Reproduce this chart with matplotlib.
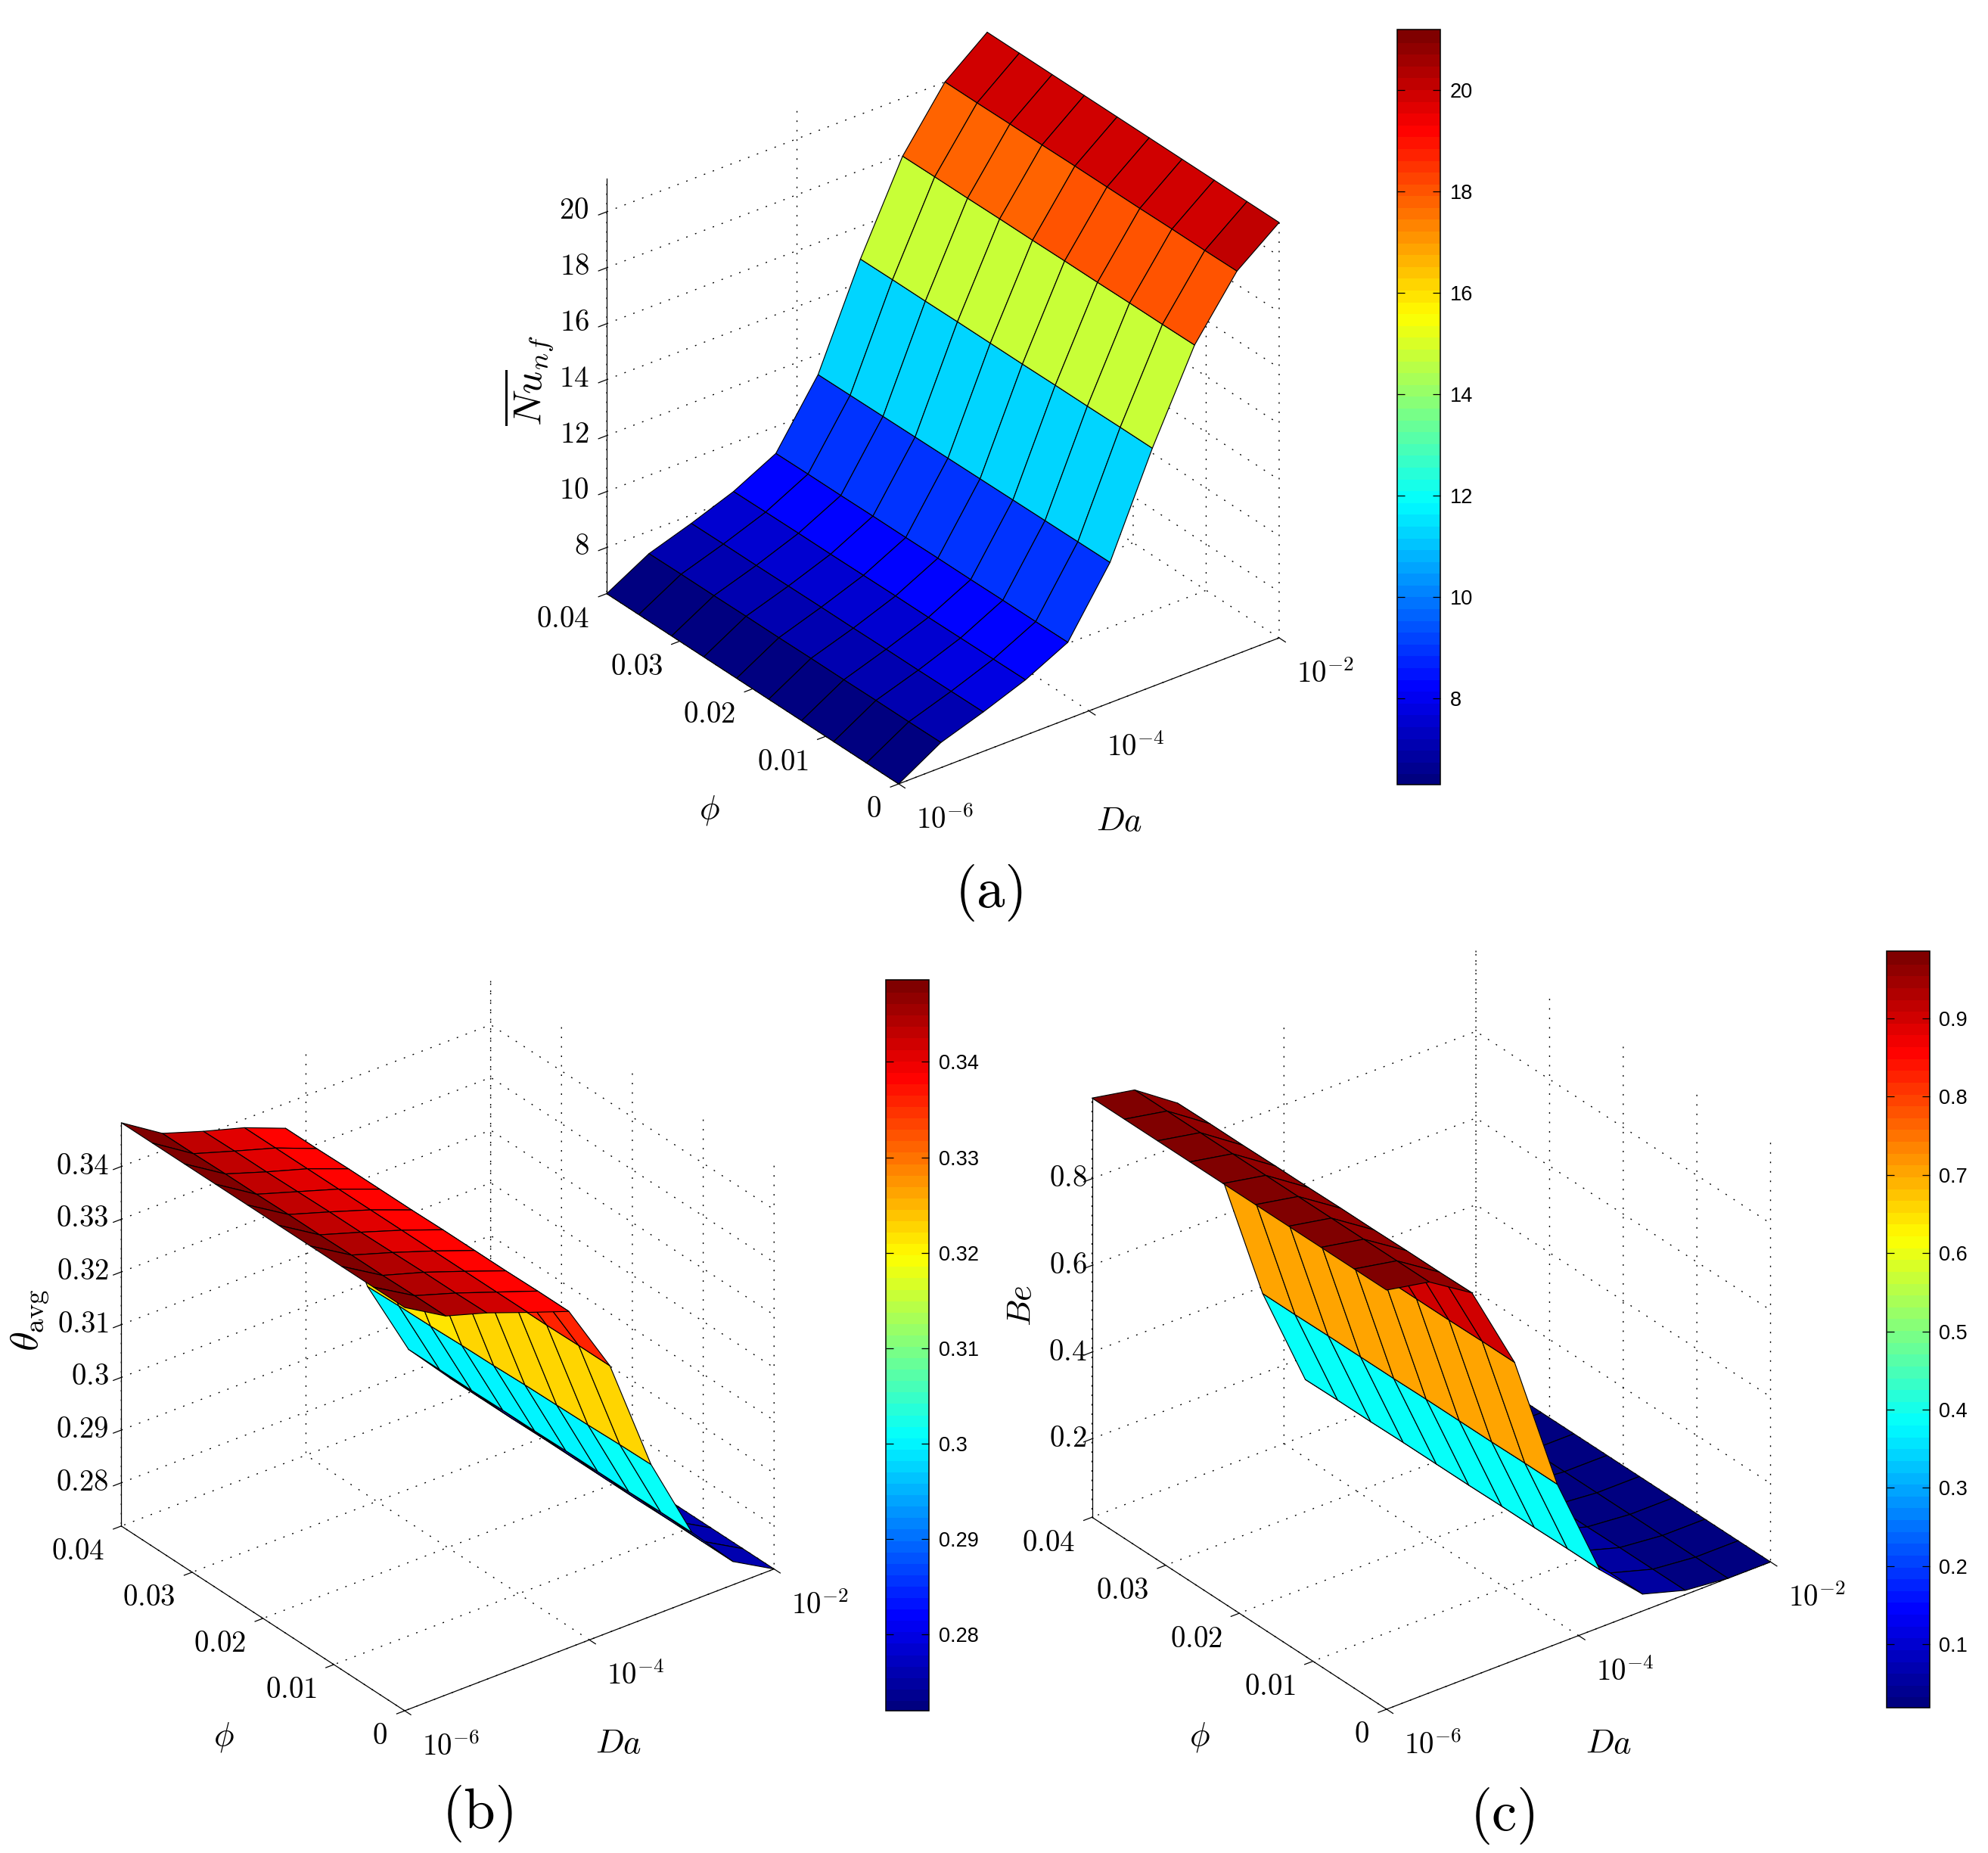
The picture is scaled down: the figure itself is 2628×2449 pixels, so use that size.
import numpy as np
import matplotlib
matplotlib.use('Agg')
import matplotlib.pyplot as plt
from matplotlib.colors import Normalize, LinearSegmentedColormap
from matplotlib.cm import ScalarMappable
from mpl_toolkits.mplot3d import proj3d

plt.rcParams['mathtext.fontset'] = 'cm'
plt.rcParams['grid.color'] = 'k'
plt.rcParams['grid.linewidth'] = 1.0
plt.rcParams['grid.linestyle'] = (0, (1.4, 7.6))

W, H = 2628, 2449

# log10(Da) and phi grid
log_da = [-6, -5.556, -5.111, -4.667, -4.222, -3.778, -3.333, -2.889, -2.444, -2]
phi = [0, 0.0044, 0.0089, 0.0133, 0.0178, 0.0222, 0.0267, 0.0311, 0.0356, 0.04]

# rows are phi, columns are Da
nu_avg = [
    [6.35, 7.25, 7.76, 8.33, 9.09, 11.37, 14.87, 17.98, 20.04, 21.20],
    [6.35, 7.24, 7.75, 8.32, 9.08, 11.36, 14.87, 17.97, 20.03, 21.20],
    [6.35, 7.24, 7.74, 8.31, 9.08, 11.35, 14.86, 17.97, 20.03, 21.20],
    [6.35, 7.23, 7.74, 8.30, 9.07, 11.34, 14.86, 17.96, 20.02, 21.20],
    [6.35, 7.23, 7.73, 8.30, 9.07, 11.33, 14.85, 17.96, 20.02, 21.20],
    [6.35, 7.22, 7.73, 8.29, 9.06, 11.32, 14.85, 17.95, 20.02, 21.20],
    [6.35, 7.22, 7.72, 8.28, 9.06, 11.31, 14.85, 17.95, 20.01, 21.20],
    [6.35, 7.21, 7.71, 8.28, 9.05, 11.30, 14.84, 17.94, 20.01, 21.20],
    [6.35, 7.21, 7.71, 8.27, 9.05, 11.29, 14.84, 17.94, 20.00, 21.20],
    [6.35, 7.20, 7.70, 8.26, 9.04, 11.28, 14.83, 17.93, 20.00, 21.20],
]
theta_avg = [
    [0.3483, 0.3437, 0.3413, 0.3384, 0.3356, 0.3223, 0.3006, 0.2847, 0.2762, 0.2718],
    [0.3483, 0.3437, 0.3412, 0.3384, 0.3356, 0.3223, 0.3005, 0.2847, 0.2762, 0.2718],
    [0.3483, 0.3436, 0.3412, 0.3384, 0.3355, 0.3222, 0.3003, 0.2846, 0.2762, 0.2718],
    [0.3483, 0.3436, 0.3411, 0.3384, 0.3355, 0.3222, 0.3002, 0.2846, 0.2761, 0.2718],
    [0.3483, 0.3435, 0.3410, 0.3384, 0.3355, 0.3221, 0.3001, 0.2846, 0.2761, 0.2718],
    [0.3483, 0.3435, 0.3410, 0.3384, 0.3354, 0.3221, 0.2999, 0.2845, 0.2761, 0.2718],
    [0.3483, 0.3434, 0.3409, 0.3384, 0.3354, 0.3220, 0.2998, 0.2845, 0.2761, 0.2718],
    [0.3483, 0.3434, 0.3408, 0.3384, 0.3354, 0.3220, 0.2996, 0.2844, 0.2760, 0.2718],
    [0.3483, 0.3433, 0.3408, 0.3384, 0.3353, 0.3219, 0.2995, 0.2844, 0.2760, 0.2718],
    [0.3483, 0.3433, 0.3407, 0.3384, 0.3353, 0.3219, 0.2993, 0.2844, 0.2760, 0.2718],
]
bejan = [
    [0.986, 0.967, 0.904, 0.706, 0.387, 0.152, 0.058, 0.029, 0.019, 0.019],
    [0.986, 0.967, 0.903, 0.706, 0.387, 0.152, 0.058, 0.029, 0.019, 0.019],
    [0.986, 0.967, 0.903, 0.705, 0.386, 0.151, 0.058, 0.029, 0.019, 0.019],
    [0.986, 0.967, 0.902, 0.705, 0.386, 0.151, 0.058, 0.028, 0.019, 0.019],
    [0.986, 0.967, 0.902, 0.705, 0.386, 0.150, 0.058, 0.028, 0.019, 0.019],
    [0.986, 0.967, 0.901, 0.704, 0.385, 0.150, 0.058, 0.028, 0.019, 0.019],
    [0.986, 0.967, 0.901, 0.704, 0.385, 0.150, 0.058, 0.028, 0.019, 0.019],
    [0.986, 0.967, 0.900, 0.704, 0.385, 0.149, 0.058, 0.027, 0.019, 0.019],
    [0.986, 0.967, 0.900, 0.703, 0.384, 0.149, 0.058, 0.027, 0.019, 0.019],
    [0.986, 0.967, 0.899, 0.703, 0.384, 0.148, 0.058, 0.027, 0.019, 0.019],
]

phi_ticks = [0, 0.01, 0.02, 0.03, 0.04]
phi_labels = ['$0$', '$0.01$', '$0.02$', '$0.03$', '$0.04$']
da_ticks = [-6, -4, -2]
da_labels = ['$10^{-6}$', '$10^{-4}$', '$10^{-2}$']
nu_ticks = [8, 10, 12, 14, 16, 18, 20]
theta_ticks = [0.28, 0.29, 0.30, 0.31, 0.32, 0.33, 0.34]
theta_labels = ['0.28', '0.29', '0.3', '0.31', '0.32', '0.33', '0.34']
be_ticks = [0.2, 0.4, 0.6, 0.8]
nu_bar_ticks = [8, 10, 12, 14, 16, 18, 20]
be_bar_ticks = [0.1, 0.2, 0.3, 0.4, 0.5, 0.6, 0.7, 0.8, 0.9]

# matlab flavour of jet, a bit different from the matplotlib one
jet_stops = [(0, (0, 0, 0.5)), (0.125, (0, 0, 1)), (0.375, (0, 1, 1)),
             (0.625, (1, 1, 0)), (0.875, (1, 0, 0)), (1, (0.5, 0, 0))]
jet = LinearSegmentedColormap.from_list('matlab_jet', jet_stops, N=64)

fig = plt.figure(figsize=(W / 100, H / 100), dpi=100, facecolor='w')


def place_axes(ax, limits, origin, z_top):
    # scale and shift the square axes so the box corners land on the wanted pixels
    xmin, ymin, zmin, zmax = limits
    for _ in range(3):
        ax.apply_aspect()
        M = ax.get_proj()
        p0 = proj3d.proj_transform(xmin, ymin, zmin, M)
        p1 = proj3d.proj_transform(xmin, ymin, zmax, M)
        d0 = ax.transData.transform((p0[0], p0[1]))
        d1 = ax.transData.transform((p1[0], p1[1]))
        pos = ax.get_position(original=True)
        s = (z_top[0] - z_top[1]) / (d1[1] - d0[1])
        w, h = pos.width * W * s, pos.height * H * s
        x = pos.x0 * W
        y = pos.y0 * H
        ax.set_position([x / W, y / H, w / W, h / H])
        ax.apply_aspect()
        M = ax.get_proj()
        p0 = proj3d.proj_transform(xmin, ymin, zmin, M)
        d0 = ax.transData.transform((p0[0], p0[1]))
        x += origin[0] - d0[0]
        y += (H - origin[1]) - d0[1]
        ax.set_position([x / W, y / H, w / W, h / H])


def surf_panel(z_data, zlim, zticks, zlabels, zlabel, zsize, box, origin, z_span, zpad, lab_xy):
    ax = fig.add_axes([0.2, 0.2, 0.4, 0.4], projection='3d')
    ax.set_facecolor('none')
    ax.set_proj_type('ortho')
    ax.view_init(elev=30, azim=-127.5)
    ax.set_box_aspect(box)
    X, Y = np.meshgrid(log_da, phi)
    Z = np.array(z_data)
    norm = Normalize(zlim[0], zlim[1])
    ax.plot_surface(X, Y, Z, rstride=1, cstride=1, facecolors=jet(norm(Z)), shade=False,
                    edgecolor='k', linewidth=0.85, antialiased=True)
    ax.set_xlim(-6, -2)
    ax.set_ylim(0, 0.04)
    ax.set_zlim(zlim[0], zlim[1])
    ax.set_xticks(da_ticks, labels=da_labels)
    ax.set_yticks(phi_ticks, labels=phi_labels)
    ax.set_zticks(zticks, labels=zlabels)
    for axis, pad in zip((ax.xaxis, ax.yaxis, ax.zaxis), (16, 10, zpad)):
        axis.set_pane_color((1, 1, 1, 0))
        axis.pane.set_edgecolor((1, 1, 1, 0))
        axis.line.set_color('k')
        axis.line.set_linewidth(0.9)
        axis._axinfo['tick'].update(inward_factor=0.27, outward_factor=0, linewidth={True: 0.9, False: 0.9})
        axis.set_tick_params(labelsize=28, pad=pad, colors='k')
    plt.setp(ax.get_xticklabels(), ha='left', va='center')
    plt.setp(ax.get_yticklabels(), ha='right', va='center')
    plt.setp(ax.get_zticklabels(), ha='right', va='center')
    ax.grid(True)
    place_axes(ax, (-6, 0, zlim[0], zlim[1]), origin, z_span)
    fig.text(lab_xy[0][0] / W, 1 - lab_xy[0][1] / H, '$Da$', fontsize=32, ha='center', va='center')
    fig.text(lab_xy[1][0] / W, 1 - lab_xy[1][1] / H, r'$\phi$', fontsize=32, ha='center', va='center')
    fig.text(lab_xy[2][0] / W, 1 - lab_xy[2][1] / H, zlabel, fontsize=zsize, rotation=90, ha='center', va='center')
    return ax


def colorbar(rect, zlim, ticks, labels):
    x0, y0, x1, y1 = rect
    cax = fig.add_axes([x0 / W, 1 - y1 / H, (x1 - x0) / W, (y1 - y0) / H])
    cb = fig.colorbar(ScalarMappable(Normalize(zlim[0], zlim[1]), jet), cax=cax)
    cb.set_ticks(ticks, labels=labels)
    cb.ax.minorticks_off()
    cb.ax.tick_params(direction='in', left=True, right=True, length=7, width=0.9, labelsize=19.5, pad=9)
    for lab in cb.ax.get_yticklabels():
        lab.set_fontfamily('Liberation Sans')
    cb.outline.set_linewidth(1.1)
    cb.solids.set_edgecolor('face')


surf_panel(nu_avg, (6.35, 21.2), nu_ticks, [f'${t}$' for t in nu_ticks], r'$\overline{Nu}_{nf}$', 38,
           (640, 640, 640), (1188, 1036), (782, 233), 2.5,
           ((1480, 1086), (938, 1071), (699, 503)))
surf_panel(theta_avg, (0.2718, 0.3483), theta_ticks, [f'${t}$' for t in theta_labels], r'$\theta_{\mathrm{avg}}$', 38,
           (616, 616, 616), (535, 2261), (2016, 1483), -0.5,
           ((818, 2304), (296, 2296), (40, 1745)))
surf_panel(bejan, (0.019, 0.986), be_ticks, [f'${t}$' for t in be_ticks], r'$Be$', 32,
           (640, 640, 640), (1833, 2259), (2005, 1451), -5,
           ((2127, 2304), (1586, 2296), (1350, 1726)))

colorbar((1847, 39, 1904, 1037), (6.30, 21.19), nu_bar_ticks, [str(t) for t in nu_bar_ticks])
colorbar((1171, 1295, 1228, 2261), (0.2720, 0.3486), theta_ticks, theta_labels)
colorbar((2494, 1257, 2551, 2257), (0.019, 0.986), be_bar_ticks, [str(t) for t in be_bar_ticks])

fig.text(1310 / W, 1 - 1180 / H, '(a)', fontfamily='cmr10', fontsize=54, ha='center', va='center')
fig.text(635 / W, 1 - 2397 / H, '(b)', fontfamily='cmr10', fontsize=54, ha='center', va='center')
fig.text(1989 / W, 1 - 2400 / H, '(c)', fontfamily='cmr10', fontsize=54, ha='center', va='center')

fig.savefig('out.png', dpi=100)
